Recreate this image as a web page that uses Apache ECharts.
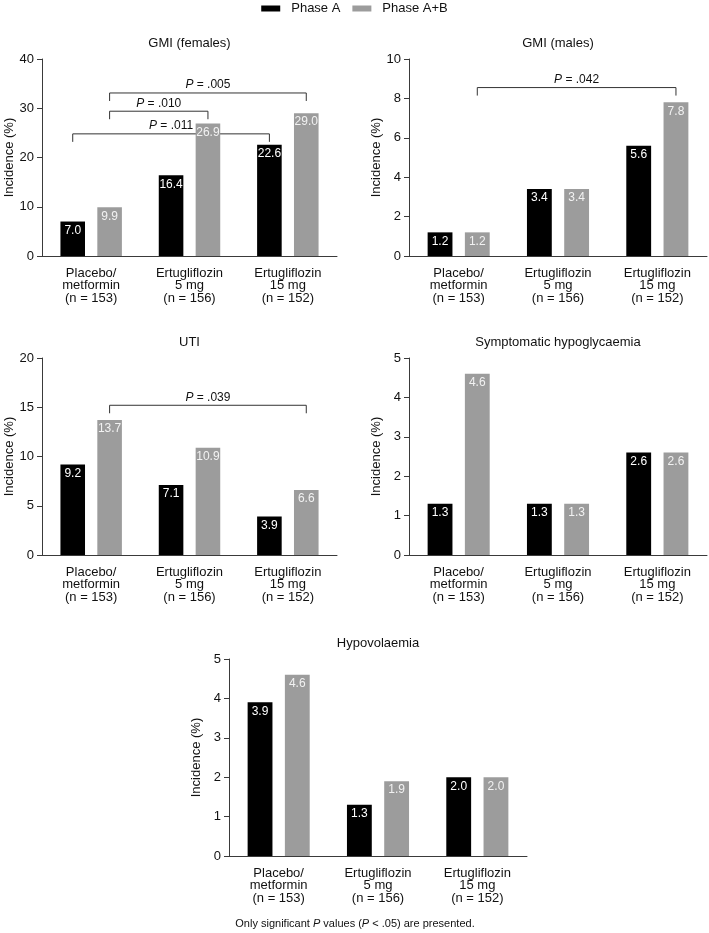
<!DOCTYPE html>
<html>
<head>
<meta charset="utf-8">
<script src="https://cdn.jsdelivr.net/npm/echarts@6/dist/echarts.min.js"></script>
<style>
html,body{margin:0;padding:0;background:#fff;}
#chart{width:709px;height:933px;}
</style>
</head>
<body>
<div id="chart"></div>
<script>
// ---- data ----
var categories = ['Placebo/\nmetformin\n(n = 153)', 'Ertugliflozin\n5 mg\n(n = 156)', 'Ertugliflozin\n15 mg\n(n = 152)'];
var seriesNames = ['Phase A', 'Phase A+B'];

var panelTitles = ['GMI (females)', 'GMI (males)', 'UTI', 'Symptomatic hypoglycaemia', 'Hypovolaemia'];

var gmiFemalesA  = [7.0, 16.4, 22.6];
var gmiFemalesAB = [9.9, 26.9, 29.0];
var gmiMalesA    = [1.2, 3.4, 5.6];
var gmiMalesAB   = [1.2, 3.4, 7.8];
var utiA         = [9.2, 7.1, 3.9];
var utiAB        = [13.7, 10.9, 6.6];
var hypoglyA     = [1.3, 1.3, 2.6];
var hypoglyAB    = [4.6, 1.3, 2.6];
var hypovolA     = [3.9, 1.3, 2.0];
var hypovolAB    = [4.6, 1.9, 2.0];

var yMax      = [40, 10, 20, 5, 5];
var yInterval = [10, 2, 5, 1, 1];

// brackets: [fromCategory, fromSeries, toCategory, toSeries, level(%), p-value text]
var bracketsGmiFemales = [[0, 1, 2, 1, 33.1, '.005'], [0, 1, 1, 1, 29.4, '.010'], [0, 0, 2, 0, 24.8, '.011']];
var bracketsGmiMales   = [[0, 1, 2, 1, 8.55, '.042']];
var bracketsUti        = [[0, 1, 2, 1, 15.2, '.039']];

// ---- layout ----
var FONT = '"Liberation Sans", Arial, sans-serif';
var grids = [
  {left: 42,  top: 59,  width: 295, height: 197},
  {left: 409, top: 59,  width: 298, height: 197},
  {left: 42,  top: 358, width: 295, height: 197},
  {left: 409, top: 358, width: 298, height: 197},
  {left: 229, top: 659, width: 298, height: 197}
];
var panelA  = [gmiFemalesA, gmiMalesA, utiA, hypoglyA, hypovolA];
var panelAB = [gmiFemalesAB, gmiMalesAB, utiAB, hypoglyAB, hypovolAB];
var panelBrackets = [bracketsGmiFemales, bracketsGmiMales, bracketsUti, [], []];

var BAR_FRAC = 0.25, GAP_FRAC = 0.5;
var AXIS_COLOR = '#3a3a3a';
var BLACK = '#000000', GREY = '#9c9c9c';

var xAxes = [], yAxes = [], series = [], titles = [];
grids.forEach(function (g, i) {
  titles.push({
    text: panelTitles[i],
    left: g.left + g.width / 2,
    top: g.top - 22,
    textAlign: 'center',
    padding: 0,
    textStyle: {fontFamily: FONT, fontSize: 13, fontWeight: 'normal', color: '#111'}
  });
  xAxes.push({
    type: 'category', gridIndex: i, data: categories,
    axisLine: {lineStyle: {color: AXIS_COLOR, width: 1}},
    axisTick: {alignWithLabel: true, length: 4, lineStyle: {color: AXIS_COLOR}},
    axisLabel: {fontFamily: FONT, fontSize: 13, color: '#111', margin: 11, lineHeight: 12.5, interval: 0}
  });
  yAxes.push({
    type: 'value', gridIndex: i, min: 0, max: yMax[i], interval: yInterval[i],
    name: 'Incidence (%)', nameLocation: 'middle', nameGap: 26,
    nameTextStyle: {fontFamily: FONT, fontSize: 13, color: '#111'},
    axisLine: {show: true, lineStyle: {color: AXIS_COLOR, width: 1}},
    axisTick: {show: true, length: 5, lineStyle: {color: AXIS_COLOR}},
    axisLabel: {fontFamily: FONT, fontSize: 13, color: '#111', margin: 8},
    splitLine: {show: false}
  });
  [panelA[i], panelAB[i]].forEach(function (vals, s) {
    series.push({
      type: 'bar', name: seriesNames[s], xAxisIndex: i, yAxisIndex: i,
      data: vals, barWidth: (BAR_FRAC * 100) + '%', barGap: (GAP_FRAC * 100) + '%',
      itemStyle: {color: s === 0 ? BLACK : GREY},
      label: {
        show: true, position: 'insideTop', distance: 3,
        fontFamily: FONT, fontSize: 12, color: s === 0 ? '#ffffff' : '#f2f2f2',
        formatter: function (p) { return p.value.toFixed(1); }
      },
      animation: false
    });
  });
  if (panelBrackets[i].length) {
    series.push({
      type: 'custom', xAxisIndex: i, yAxisIndex: i,
      data: panelBrackets[i],
      encode: {x: [0, 2], y: 4},
      silent: true, animation: false, clip: false,
      renderItem: function (params, api) {
        var band = api.size([1, 0])[0];
        var bw = band * BAR_FRAC, gap = bw * GAP_FRAC;
        var off = function (s) { return (s === 0 ? -1 : 1) * (bw + gap) / 2; };
        var item = panelBrackets[i][params.dataIndex];
        var p1 = api.coord([api.value(0), api.value(4)]);
        var p2 = api.coord([api.value(2), api.value(4)]);
        var x1 = p1[0] + off(item[1]);
        var x2 = p2[0] + off(item[3]);
        var y = p1[1];
        var tick = 8;
        return {
          type: 'group',
          children: [
            {type: 'polyline', shape: {points: [[x1, y + tick], [x1, y], [x2, y], [x2, y + tick]]},
             style: {stroke: '#333', lineWidth: 1, fill: null}},
            {type: 'text', style: {
              text: '{i|P} = ' + item[5], x: (x1 + x2) / 2, y: y - 2,
              align: 'center', verticalAlign: 'bottom',
              fontFamily: FONT, fontSize: 12, fill: '#111',
              rich: {i: {fontStyle: 'italic', fontFamily: FONT, fontSize: 12, fill: '#111'}}
            }}
          ]
        };
      }
    });
  }
});

titles.push({
  text: '{n|Only significant }{i|P}{n| values (}{i|P}{n| < .05) are presented.}',
  left: 355, top: 918, textAlign: 'center', padding: 0,
  textStyle: {
    fontFamily: FONT, fontSize: 11, fontWeight: 'normal', color: '#111',
    rich: {n: {fontFamily: FONT, fontSize: 11, color: '#111'},
           i: {fontFamily: FONT, fontSize: 11, color: '#111', fontStyle: 'italic'}}
  }
});

var chart = echarts.init(document.getElementById('chart'), null, {renderer: 'canvas'});
chart.setOption({
  backgroundColor: '#ffffff',
  animation: false,
  title: titles,
  legend: {
    data: seriesNames, top: -3, left: 'center',
    icon: 'rect', itemWidth: 19, itemHeight: 6, itemGap: 12,
    textStyle: {fontFamily: FONT, fontSize: 13, color: '#111', padding: [0, 0, 0, 6]}
  },
  grid: grids,
  xAxis: xAxes,
  yAxis: yAxes,
  series: series
});
</script>
</body>
</html>
